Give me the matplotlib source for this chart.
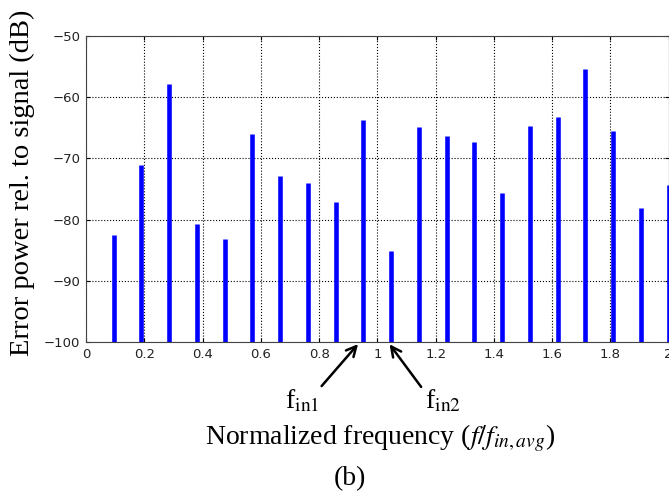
import numpy as np
import matplotlib.pyplot as plt

plt.rcParams['mathtext.fontset'] = 'stix'

# normalized frequency of each spur and its level (dB rel. to signal)
freq = [0.095, 0.190, 0.286, 0.381, 0.476, 0.571, 0.667, 0.762, 0.857, 0.952,
        1.048, 1.143, 1.238, 1.333, 1.429, 1.524, 1.619, 1.714, 1.810, 1.905, 2.000]
level = [-82.5, -71.0, -57.8, -80.7, -83.1, -66.0, -72.9, -74.1, -77.1, -63.7,
         -85.1, -64.8, -66.3, -67.3, -75.7, -64.7, -63.2, -55.4, -65.6, -78.1, -74.3]

fig = plt.figure(figsize=(6.69, 4.97), dpi=100)
ax = fig.add_axes([0.1286, 0.3119, 0.871, 0.6157])

ax.vlines(freq, -100, level, color='#0000ff', linewidth=3.3)

ax.set_xlim(0, 2)
ax.set_ylim(-100, -50)
ax.set_xticks(np.arange(0, 2.01, 0.2))
ax.set_xticklabels(['0', '0.2', '0.4', '0.6', '0.8', '1', '1.2', '1.4', '1.6', '1.8', '2'])
ax.set_yticks(range(-100, -49, 10))
ax.tick_params(direction='in', top=True, right=True, labelsize=9.5, length=3,
               labelcolor='#222222', pad=4)
ax.grid(True, color='black', linestyle=':', linewidth=0.8)
for s in ax.spines.values():
    s.set_color('#444444')

ax.set_ylabel('Error power rel. to signal (dB)', family='Liberation Serif', fontsize=20.5)
ax.yaxis.set_label_coords(-0.088, 0.52)

fig.text(0.568, 0.118, r'Normalized frequency ($f/f_{in,avg}$)', ha='center', va='center',
         family='Liberation Serif', fontsize=20)
fig.text(0.523, 0.038, '(b)', ha='center', va='center', family='Liberation Serif', fontsize=20)

# input tone markers
ax.annotate('', xy=(0.94, -100), xycoords='data', xytext=(0.478, 0.219),
            textcoords='figure fraction',
            arrowprops=dict(arrowstyle='->', color='black', lw=1.8, mutation_scale=18),
            annotation_clip=False)
ax.annotate('', xy=(1.036, -100), xycoords='data', xytext=(0.632, 0.217),
            textcoords='figure fraction',
            arrowprops=dict(arrowstyle='->', color='black', lw=1.8, mutation_scale=18),
            annotation_clip=False)
fig.text(0.451, 0.193, r'f$_{\mathrm{in1}}$', ha='center', va='center',
         family='Liberation Serif', fontsize=20)
fig.text(0.662, 0.193, r'f$_{\mathrm{in2}}$', ha='center', va='center',
         family='Liberation Serif', fontsize=20)

fig.savefig('out.png', dpi=100)
